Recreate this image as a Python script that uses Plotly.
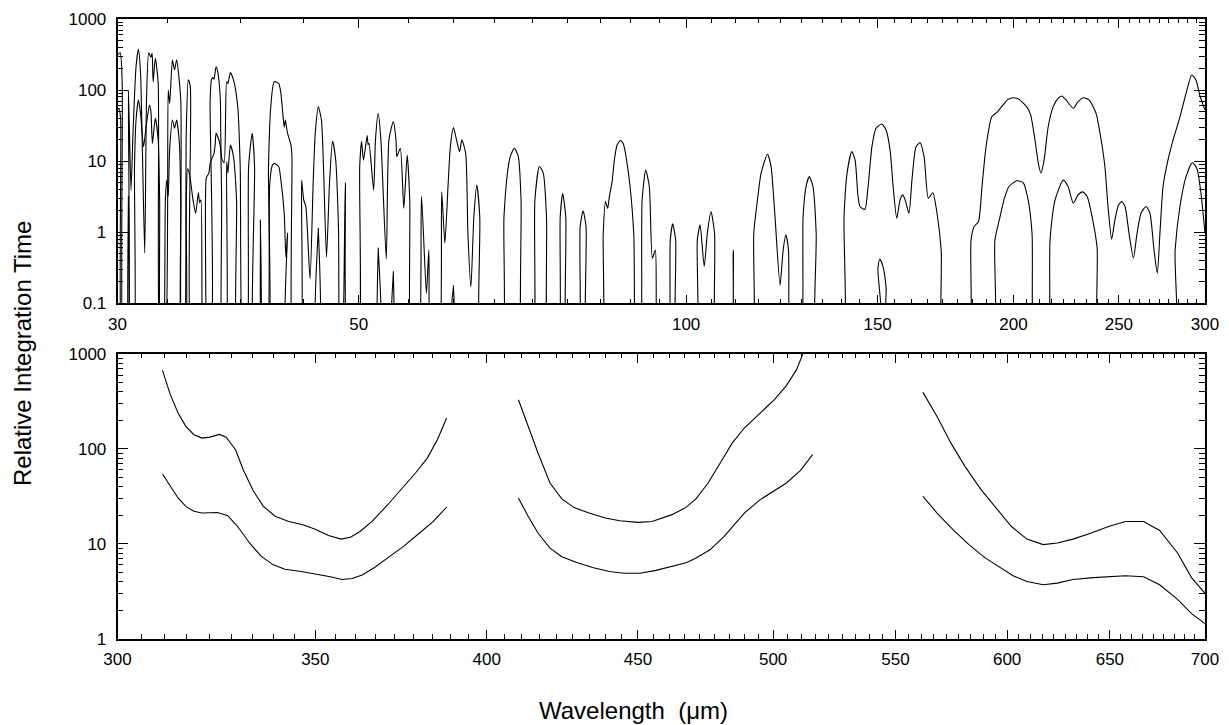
import plotly.graph_objects as go

# far-infrared band, 30-300 um (upper and lower curve)
far_a_wl = [30.0, 30.17, 30.3, 30.43, 30.6, 30.7, 30.87, 31.0, 31.2, 31.36, 31.5, 31.78, 31.9, 32.05, 32.2, 32.28,
            32.35, 32.5, 32.7, 32.9, 33.1, 33.4, 33.5, 33.7, 33.85, 34.0, 34.3, 34.4, 34.5, 34.7, 34.85, 35.0,
            35.3, 36.3, 36.5, 36.6, 36.7, 36.8, 36.96, 37.1, 37.3, 37.4, 37.6, 37.8, 37.9, 38.1, 38.35, 38.7,
            38.9, 39.2, 39.4, 39.6, 39.9, 40.1, 40.2, 41.1, 41.3, 41.5, 41.8, 42.2, 42.4, 42.6, 42.7, 42.8,
            43.0, 43.3, 43.4, 43.6, 44.1, 44.3, 44.5, 44.7, 45.1, 45.4, 45.6, 45.9, 46.2, 46.4, 46.7, 47.0,
            47.3, 47.6, 47.9, 48.1, 48.2, 48.6, 49.0, 49.8, 50.1, 50.3, 50.5, 50.9, 51.0, 51.1, 51.6, 51.8,
            52.1, 52.4, 53.0, 53.3, 53.8, 54.1, 54.2, 54.6, 55.0, 55.4, 55.7, 56.0, 56.6, 57.1, 57.7, 58.0,
            58.4, 59.1, 59.6, 60.0, 60.4, 60.7, 61.1, 61.5, 61.9, 62.2, 62.7, 63.0, 63.4, 63.8, 64.2, 64.6,
            65.0, 67.4, 68.0, 68.5, 68.9, 69.5, 70.1, 70.5, 70.9, 72.1, 72.6, 73.3, 73.9, 74.4, 74.9, 76.1,
            76.6, 77.0, 77.5, 77.9, 79.4, 79.9, 80.4, 80.9, 81.3, 83.4, 83.9, 84.3, 84.7, 85.0, 85.5, 85.9,
            86.4, 87.0, 87.5, 88.5, 89.5, 90.1, 90.6, 91.1, 91.8, 92.5, 93.1, 93.7, 94.5, 96.0, 96.7, 97.2,
            97.8, 98.4, 101.8, 102.4, 103.0, 103.9, 104.6, 105.4, 106.2, 106.9, 109.6, 110.5, 111.5, 114.7,
            115.4, 116.3, 117.2, 118.8, 119.7, 120.7, 122.0, 122.8, 123.5, 124.2, 125.1, 127.1, 128.1, 128.9,
            129.8, 130.8, 131.7, 132.3, 138.8, 139.7, 140.6, 142.0, 143.0, 143.9, 144.5, 146.0, 147.0, 148.2,
            149.5, 151.3, 152.7, 154.0, 155.0, 156.2, 157.3, 158.2, 159.0, 160.3, 161.3, 162.7, 164.1, 165.5,
            167.0, 168.6, 170.1, 171.6, 173.0, 181.2, 182.8, 184.0, 185.7, 187.1, 188.7, 191.0, 193.1, 195.6,
            197.7, 200.0, 202.4, 205.7, 207.4, 209.3, 210.9, 212.0, 213.4, 215.2, 217.5, 219.8, 221.5, 223.5,
            227.0, 229.3, 231.9, 234.7, 238.2, 240.2, 242.7, 244.3, 246.2, 247.9, 249.8, 251.5, 253.3, 255.4,
            257.8, 259.8, 262.0, 264.8, 267.0, 269.3, 271.2, 272.7, 274.5, 277.4, 280.4, 284.5, 288.2, 291.7,
            294.3, 296.8, 300.0]
far_a_val = [312, 336, 124, 0.01, 0.01, 100, 3.9, 24.7, 213, 374, 172, 0.51, 72.6, 336, 289, 329,
             131, 280, 124, 0.01, 0.01, 100, 65, 265, 192, 265, 72.6, 0.01, 0.01, 24.7, 139, 112,
             0.01, 0.01, 72.6, 139, 150, 142, 213, 179, 72.6, 11, 9.5, 131, 124, 176, 139, 58,
             8.5, 0.01, 0.01, 8.5, 24.7, 8.5, 0.01, 0.01, 8.5, 58, 131, 124, 90, 42, 30, 38,
             24.7, 17.2, 12, 0.01, 0.01, 5.4, 2.85, 2.3, 0.22, 5.1, 24.7, 58, 38, 8.5, 0.45, 5,
             19, 11, 1.1, 0.01, 0.01, 5.0, 0.01, 0.01, 8.5, 19, 10.3, 23, 17, 17.8, 3.9, 19.9,
             47, 19.9, 0.42, 20, 36, 20, 11.6, 15.2, 2.17, 12.2, 2.85, 0.01, 0.01, 3.2, 0.139, 0.56,
             0.01, 0.01, 3.7, 0.7, 4.4, 16, 29.6, 19.9, 13.6, 19.9, 12.9, 0.97, 0.17, 1.66, 4.6, 1.66,
             0.01, 0.01, 1.66, 6.8, 11.6, 15.2, 11.6, 2.85, 0.01, 0.01, 2.85, 8.4, 6.8, 1.66, 0.01, 0.01,
             1.66, 3.5, 1.66, 0.01, 0.01, 1.2, 2.0, 1.2, 0.01, 0.01, 0.97, 2.7, 2.17, 3.2, 5.2, 10.4,
             16.9, 19.5, 17.8, 6.8, 0.97, 0.01, 0.01, 2.85, 7.5, 4.4, 0.43, 0.56, 0.01, 0.01, 0.78, 1.31,
             0.78, 0.01, 0.01, 0.78, 1.27, 0.33, 0.97, 1.95, 0.97, 0.01, 0.01, 0.56, 0.01, 0.01,
             0.97, 2.85, 6.8, 12.5, 8.4, 1.66, 0.18, 0.56, 0.92, 0.56, 0.01, 0.01, 1.66, 4.4,
             6.05, 4.4, 0.97, 0.01, 0.01, 1.66, 6.8, 13.6, 10.4, 3.2, 2.3, 2.1, 4.4, 16,
             29, 33.3, 27.5, 14.4, 4.4, 1.57, 2.85, 3.35, 2.85, 1.85, 5.4, 16, 18.2, 11.6,
             3.0, 3.6, 1.85, 0.56, 0.01, 0.01, 0.78, 1.2, 1.41, 4.4, 16, 42, 48.6, 61.7,
             74, 78, 74, 58, 44.7, 19.9, 8.9, 6.8, 10.4, 30, 58, 76.5, 82.6, 72.6,
             55.5, 68.7, 78, 72.6, 47, 24.7, 8.4, 2.3, 0.8, 1.49, 2.42, 2.7, 2.3, 0.97,
             0.43, 0.97, 1.85, 2.3, 1.85, 0.56, 0.265, 0.97, 4.4, 10.4, 19.9, 42, 90, 163,
             139, 83, 52.5]

far_b_wl = [30.0, 30.1, 30.2, 30.35, 30.6, 30.7, 30.8, 31.0, 31.1, 31.2, 31.36, 31.5, 31.7, 31.9, 32.1, 32.2,
            32.3, 32.5, 32.7, 32.8, 32.9, 33.0, 33.2, 33.3, 33.4, 33.5, 33.7, 33.85, 34.0, 34.2, 34.3, 34.4,
            34.6, 34.7, 34.8, 34.95, 35.2, 35.4, 35.6, 35.7, 35.8, 36.0, 36.1, 36.2, 36.4, 36.5, 36.8, 36.9,
            36.96, 37.1, 37.3, 37.4, 37.5, 37.7, 37.8, 37.9, 38.1, 38.35, 38.6, 38.9, 40.3, 40.6, 40.8, 41.1,
            41.4, 41.6, 41.8, 42.2, 42.4, 42.7, 42.85, 43.0, 43.1, 45.7, 45.9, 46.1, 51.9, 52.1, 52.3, 53.6,
            53.8, 54.0, 60.8, 61.1, 61.4, 149.5, 150.1, 150.7, 151.7, 152.7, 153.8, 189.6, 192.3, 194.4, 196.0,
            198.1, 201.4, 204.1, 206.3, 208.0, 209.8, 214.3, 216.1, 218.4, 222.2, 224.5, 227.0, 229.3, 231.6,
            233.7, 236.2, 238.7, 241.9, 279.6, 281.6, 284.5, 288.2, 292.0, 294.9, 297.4, 300.0]
far_b_val = [52.5, 55.5, 38, 0.01, 0.01, 3.2, 0.01, 0.01, 8.4, 38, 72.6, 47, 16, 34, 61.7, 49.7,
             17.8, 40, 19.9, 2.85, 0.01, 0.01, 2.85, 5.4, 3.2, 14.4, 38, 29, 38, 17.8, 2.85, 0.01,
             0.01, 2.85, 7.9, 6.4, 2.85, 1.85, 3.6, 2.6, 2.85, 0.01, 0.01, 5.75, 6.8, 9.3, 12.9, 17.8,
             24.7, 22, 16, 2.85, 0.01, 0.01, 9.8, 6.8, 16.9, 11.6, 2.85, 0.01, 0.01, 1.49, 0.01, 0.01,
             4.4, 8.4, 9.3, 8.4, 5.4, 1.85, 0.45, 0.97, 0.01, 0.01, 1.14, 0.01, 0.01, 0.6, 0.01, 0.01,
             0.28, 0.01, 0.01, 0.176, 0.01, 0.01, 0.31, 0.42, 0.33, 0.17, 0.01, 0.01, 0.78, 1.66, 2.85,
             4.4, 5.3, 5.0, 2.85, 0.97, 0.01, 0.01, 0.78, 2.85, 5.4, 4.4, 2.56, 3.35, 3.7,
             3.2, 1.66, 0.62, 0.01, 0.01, 0.56, 2.3, 6.05, 9.5, 7.9, 3.6, 0.97]

# submillimetre windows, 300-700 um (None splits the windows)
sub_hi_wl = [310.7, 312.6, 314.5, 316.4, 318.4, 320.4, 322.4, 324.8, 326.5, 328.9, 330.9, 333.5, 336.1, 339.2,
             342.8, 346.6, 349.8, 353.6, 357.1, 359.7, 362.4, 365.8, 370.3, 374.9, 378.4, 381.9, 384.9, 387.7,
             None,
             410.0, 413.1, 416.3, 420.2, 424.1, 428.0, 433.2, 438.7, 443.7, 450.0, 455.0, 462.1, 467.2, 470.9,
             475.3, 479.8, 484.3, 488.9, 495.0, 500.5, 505.2, 509.2, 511.6, 512.4,
             None,
             561.9, 568.1, 574.3, 580.6, 587.9, 595.3, 601.9, 609.3, 617.1, 623.9, 631.6, 640.6, 649.7, 658.0,
             667.3, 675.7, 685.2, 692.7, 700.0]
sub_hi_val = [673, 373, 239, 173, 141, 130, 133, 142, 133, 98, 60, 36, 24.8, 19.5,
              17.2, 15.9, 14.3, 12.2, 11.2, 11.7, 13.5, 17.2, 25.8, 40.3, 55.7, 80, 125, 212,
              None,
              330, 173, 90.5, 43.7, 29.7, 24.2, 21.1, 18.7, 17.5, 16.8, 17.2, 20.3, 24.2, 29.9,
              43.7, 71, 115, 166, 239, 330, 464, 684, 985, 1110,
              None,
              394, 220, 115, 65.5, 37.2, 22.9, 15.3, 11.2, 9.8, 10.2, 11.2, 13.0, 15.3, 17.2,
              17.2, 13.8, 8.0, 4.4, 3.0]

sub_lo_wl = [310.7, 312.6, 314.5, 316.4, 318.4, 320.4, 324.3, 326.9, 329.4, 332.5, 335.5, 338.7, 341.8, 346.1,
             350.3, 354.1, 357.4, 360.2, 363.0, 366.4, 370.3, 374.9, 379.6, 383.7, 387.7,
             None,
             410.0, 413.1, 416.3, 420.2, 424.1, 429.3, 434.7, 440.1, 445.1, 450.7, 456.4, 462.8, 467.2, 470.9,
             476.1, 481.3, 488.9, 495.0, 500.5, 505.2, 510.8, 515.6,
             None,
             561.9, 568.1, 575.2, 582.4, 589.8, 597.2, 602.8, 609.3, 617.1, 623.9, 631.6, 641.7, 658.0, 667.3,
             675.7, 685.2, 692.7, 700.0]
sub_lo_val = [54.4, 40.3, 30.4, 24.8, 22, 21.1, 21.4, 19.8, 15.3, 10.2, 7.4, 6.0, 5.4, 5.1,
              4.8, 4.5, 4.2, 4.3, 4.7, 5.6, 7.1, 9.4, 13.0, 17.2, 24.4,
              None,
              30.4, 19.5, 13.0, 9.0, 7.3, 6.3, 5.6, 5.1, 4.9, 4.9, 5.25, 5.8, 6.3, 7.1,
              8.7, 12.0, 21.1, 29.2, 36, 43.7, 59.4, 87,
              None,
              31.6, 21.1, 14.1, 9.8, 7.1, 5.6, 4.6, 4.0, 3.7, 3.85, 4.2, 4.4, 4.6, 4.5,
              3.7, 2.6, 1.84, 1.44]

far_ticks = [30, 50, 100, 150, 200, 250, 300]
sub_ticks = [300, 350, 400, 450, 500, 550, 600, 650, 700]
far_yticks = [0.1, 1, 10, 100, 1000]
sub_yticks = [1, 10, 100, 1000]

FONT = "Liberation Sans, Arial, Helvetica, sans-serif"

# the page body has an 8 px margin, so the figure is drawn 8 px smaller
# and all positions below are page pixels shifted by that margin
PAD = 8
W, H = 1229 - PAD, 725 - PAD


def px_x(p):
    return (p - PAD) / W


def px_y(p):
    return 1 - (p - PAD) / H


x_dom = [px_x(117.5), px_x(1205)]
top_dom = [px_y(303.3), px_y(19)]
bot_dom = [px_y(638.7), px_y(354)]

# minor ticks every 50/9 um, as in the original
step = 50 / 9
far_minor = [step * k for k in range(6, 54) if k % 9]
sub_minor = [step * k for k in range(55, 126) if k % 9]
far_yminor = [m * 10 ** e for e in range(-1, 3) for m in range(2, 10)]
sub_yminor = [m * 10 ** e for e in range(0, 3) for m in range(2, 10)]

fig = go.Figure()

# the lower curves sit on overlay axes that only carry the minor ticks
far_line = dict(color="black", width=1.1, shape="spline", smoothing=0.6)
sub_line = dict(color="black", width=1.1)
fig.add_trace(go.Scatter(x=far_a_wl, y=far_a_val, mode="lines", line=far_line, xaxis="x", yaxis="y"))
fig.add_trace(go.Scatter(x=far_b_wl, y=far_b_val, mode="lines", line=far_line, xaxis="x3", yaxis="y3"))
fig.add_trace(go.Scatter(x=sub_hi_wl, y=sub_hi_val, mode="lines", line=sub_line, xaxis="x2", yaxis="y2"))
fig.add_trace(go.Scatter(x=sub_lo_wl, y=sub_lo_val, mode="lines", line=sub_line, xaxis="x4", yaxis="y4"))


def axis(rng, dom, anchor, vals, text=None, ticklen=9, standoff=4, overlay=None):
    a = dict(
        type="log", range=rng, anchor=anchor, automargin=False,
        showline=True, linecolor="black", linewidth=1.6, mirror="allticks",
        ticks="inside", tickcolor="black", tickwidth=1.2, ticklen=ticklen,
        showgrid=False, zeroline=False,
        tickmode="array", tickvals=vals,
        tickfont=dict(family=FONT, size=17, color="black"),
    )
    if overlay:
        a.update(overlaying=overlay, showticklabels=False)
    else:
        a.update(domain=dom, ticktext=text, ticklabelstandoff=standoff)
    return a


fig.update_layout(
    xaxis=axis([1.47712, 2.47712], x_dom, "y", far_ticks, [str(v) for v in far_ticks]),
    yaxis=axis([-1, 3], top_dom, "x", far_yticks, ["0.1", "1", "10", "100", "1000"],
               ticklen=11, standoff=6),
    xaxis3=axis([1.47712, 2.47712], x_dom, "y3", far_minor, ticklen=4.5, overlay="x"),
    yaxis3=axis([-1, 3], top_dom, "x3", far_yminor, ticklen=6, overlay="y"),
    xaxis2=axis([2.47712, 2.845098], x_dom, "y2", sub_ticks, [str(v) for v in sub_ticks]),
    yaxis2=axis([0, 3], bot_dom, "x2", sub_yticks, ["1", "10", "100", "1000"],
                ticklen=11, standoff=6),
    xaxis4=axis([2.47712, 2.845098], x_dom, "y4", sub_minor, ticklen=4.5, overlay="x2"),
    yaxis4=axis([0, 3], bot_dom, "x4", sub_yminor, ticklen=6, overlay="y2"),
)

fig.update_layout(
    width=W, height=H,
    margin=dict(l=0, r=0, t=0, b=0),
    paper_bgcolor="white", plot_bgcolor="white",
    showlegend=False,
    annotations=[
        dict(text="Wavelength  (\u03bcm)", xref="paper", yref="paper",
             x=px_x(633), y=px_y(710), xanchor="center", yanchor="middle",
             showarrow=False, font=dict(family=FONT, size=24, color="black")),
        dict(text="Relative Integration Time", xref="paper", yref="paper",
             x=px_x(22), y=px_y(354), xanchor="center", yanchor="middle", textangle=-90,
             showarrow=False, font=dict(family=FONT, size=24, color="black")),
    ],
)

fig.write_html("out.html")
